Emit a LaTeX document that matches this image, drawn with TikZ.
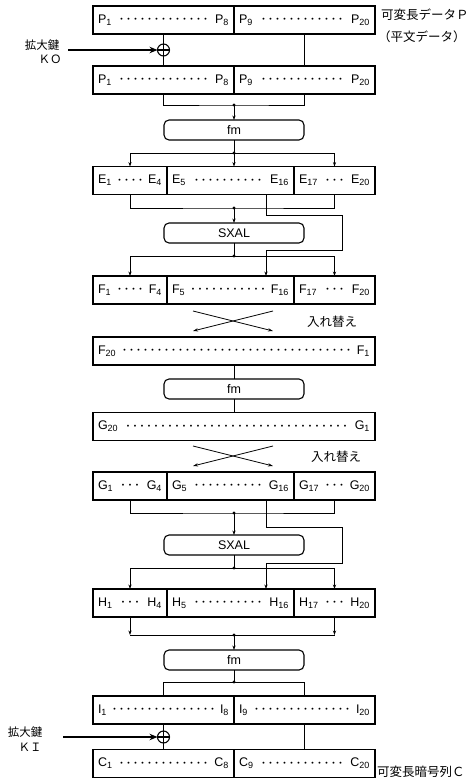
\documentclass[tikz,border=0pt]{standalone}
\usepackage{fontspec}
\setmainfont{Liberation Sans}
\newfontfamily\jpfont{Noto Sans CJK JP}
\usetikzlibrary{arrows.meta,positioning}
\newcommand{\idx}[2]{#1\textsubscript{\fontsize{9}{10}\selectfont #2}}
\newcommand{\run}[2]{#1\hspace{4pt}\cleaders\hbox to 7pt{\hss\raisebox{1.6pt}{\fontsize{7}{7}\selectfont\textbullet}\hss}\hfill\hspace{4pt}#2}
\tikzset{
    datacell/.style={rectangle,draw,line width=1.1pt,outer sep=0pt,inner xsep=5pt,inner ysep=0pt,minimum height=28pt,text height=9pt,text depth=2.5pt,text width=#1,font=\fontsize{12.5}{14}\selectfont},
    funcbox/.style={rectangle,draw,rounded corners=5pt,line width=1.1pt,outer sep=0pt,minimum width=140pt,minimum height=20pt,inner sep=0pt,font=\fontsize{12.5}{14}\selectfont},
    xorsym/.style={circle,draw,line width=1.1pt,outer sep=0pt,minimum size=12pt,inner sep=0pt,path picture={\draw[line width=1.1pt] (path picture bounding box.north) -- (path picture bounding box.south) (path picture bounding box.west) -- (path picture bounding box.east);}},
    jplabel/.style={font=\jpfont\fontsize{12.5}{14}\selectfont,inner sep=0pt},
    keylabel/.style={font=\jpfont\fontsize{11.5}{13}\selectfont,inner sep=0pt},
    joindot/.style={circle,fill,inner sep=0pt,minimum size=3.2pt},
    dataline/.style={line width=0.7pt},
    flowline/.style={-{Stealth[length=4.5pt,width=3.2pt]},line width=0.7pt},
    keyline/.style={-{Stealth[length=8pt,width=6.5pt]},line width=1.1pt},
    swapline/.style={-{Stealth[length=5pt,width=3.2pt]},line width=0.8pt}
}
\begin{document}
\begin{tikzpicture}[x=1pt,y=-1pt]
    \useasboundingbox (0,0) rectangle (475,783);
    \node[datacell=131pt,anchor=west] (p1a) at (93,20) {\run{\idx{P}{1}}{\idx{P}{8}}};
    \node[datacell=131pt,right=0pt of p1a] (p1b) {\run{\idx{P}{9}}{\idx{P}{20}}};
    \node[jplabel,anchor=west] (plain) at (381,15) {可変長データＰ};
    \node[jplabel,anchor=west] (plainsub) at (378,37) {（平文データ）};
    \node[xorsym] (xor0) at (163.5,50) {};
    \coordinate (key0) at (68,50);
    \node[keylabel] (key0a) at (42,45) {拡大鍵};
    \node[keylabel] (key0b) at (50,59) {ＫＯ};
    \node[datacell=131pt,anchor=west] (p2a) at (93,80) {\run{\idx{P}{1}}{\idx{P}{8}}};
    \node[datacell=131pt,right=0pt of p2a] (p2b) {\run{\idx{P}{9}}{\idx{P}{20}}};
    \node[funcbox] (fm1) at (234,130) {fm};
    \node[datacell=64pt,anchor=west] (e1) at (93,180.5) {\run{\idx{E}{1}}{\idx{E}{4}}};
    \node[datacell=117pt,right=0pt of e1] (e2) {\run{\idx{E}{5}}{\idx{E}{16}}};
    \node[datacell=71pt,right=0pt of e2] (e3) {\run{\idx{E}{17}}{\idx{E}{20}}};
    \node[funcbox] (sx1) at (234,233) {SXAL};
    \node[datacell=64pt,anchor=west] (f1) at (93,290) {\run{\idx{F}{1}}{\idx{F}{4}}};
    \node[datacell=117pt,right=0pt of f1] (f2) {\run{\idx{F}{5}}{\idx{F}{16}}};
    \node[datacell=71pt,right=0pt of f2] (f3) {\run{\idx{F}{17}}{\idx{F}{20}}};
    \node[jplabel] (swap1) at (332,322) {入れ替え};
    \node[datacell=272pt,anchor=west] (f20) at (93,351) {\run{\idx{F}{20}}{\idx{F}{1}}};
    \node[funcbox] (fm2) at (234,389) {fm};
    \node[datacell=272pt,anchor=west] (g20) at (93,426.5) {\run{\idx{G}{20}}{\idx{G}{1}}};
    \node[jplabel] (swap2) at (336,457) {入れ替え};
    \node[datacell=64pt,anchor=west] (g1) at (93,486) {\run{\idx{G}{1}}{\idx{G}{4}}};
    \node[datacell=117pt,right=0pt of g1] (g2) {\run{\idx{G}{5}}{\idx{G}{16}}};
    \node[datacell=71pt,right=0pt of g2] (g3) {\run{\idx{G}{17}}{\idx{G}{20}}};
    \node[funcbox] (sx2) at (234,545) {SXAL};
    \node[datacell=64pt,anchor=west] (h1) at (93,603) {\run{\idx{H}{1}}{\idx{H}{4}}};
    \node[datacell=117pt,right=0pt of h1] (h2) {\run{\idx{H}{5}}{\idx{H}{16}}};
    \node[datacell=71pt,right=0pt of h2] (h3) {\run{\idx{H}{17}}{\idx{H}{20}}};
    \node[funcbox] (fm3) at (234,660) {fm};
    \node[datacell=131pt,anchor=west] (i1) at (93,710) {\run{\idx{I}{1}}{\idx{I}{8}}};
    \node[datacell=131pt,right=0pt of i1] (i2) {\run{\idx{I}{9}}{\idx{I}{20}}};
    \node[xorsym] (xor1) at (163.5,737) {};
    \coordinate (key1) at (63,737);
    \node[keylabel] (key1a) at (25,732) {拡大鍵};
    \node[keylabel] (key1b) at (30,747) {ＫＩ};
    \node[datacell=131pt,anchor=west] (c1) at (93,763.5) {\run{\idx{C}{1}}{\idx{C}{8}}};
    \node[datacell=131pt,right=0pt of c1] (c2) {\run{\idx{C}{9}}{\idx{C}{20}}};
    \node[jplabel,anchor=west] (cipher) at (377,772) {可変長暗号列Ｃ};
    \coordinate (j1) at (234,105);
    \coordinate (j2) at (234,153);
    \coordinate (j3) at (234,208);
    \coordinate (j4) at (234,256);
    \coordinate (j5) at (234,513);
    \coordinate (j6) at (234,568);
    \coordinate (j7) at (234,635);
    \coordinate (j8) at (234,682);
    \coordinate (byp1) at (266,215);
    \coordinate (byp2) at (342,250);
    \coordinate (byp3) at (266,527);
    \coordinate (byp4) at (342,563);
    \coordinate (cr1a) at (193,311);
    \coordinate (cr1b) at (273,331);
    \coordinate (cr1c) at (273,311);
    \coordinate (cr1d) at (193,331);
    \coordinate (cr2a) at (193,446);
    \coordinate (cr2b) at (273,466);
    \coordinate (cr2c) at (273,446);
    \coordinate (cr2d) at (193,466);
    \draw[dataline] (p1a) -- (xor0) -- (p2a);
    \draw[dataline] (p1b) -- (p2b);
    \draw[keyline] (key0) -- (xor0);
    \draw[dataline] (p2a) |- (j1) -| (p2b);
    \draw[flowline] (j1) -- (fm1);
    \draw[dataline] (fm1) -- (j2);
    \draw[flowline] (j2) -| (e1);
    \draw[flowline] (j2) -| (e3);
    \draw[flowline] (j2) -- (j2 |- e2.north);
    \draw[dataline] (e1) |- (j3) -| (e3);
    \draw[flowline] (j3) -- (sx1);
    \draw[flowline] (e2.south -| byp1) -- (byp1) -| (byp2) -| (f2.north -| byp1);
    \draw[dataline] (sx1) -- (j4);
    \draw[flowline] (j4) -| (f1);
    \draw[flowline] (j4) -| (f3);
    \draw[swapline] (cr1a) -- (cr1b);
    \draw[swapline] (cr1c) -- (cr1d);
    \draw[dataline] (f20) -- (fm2) -- (g20);
    \draw[swapline] (cr2a) -- (cr2b);
    \draw[swapline] (cr2c) -- (cr2d);
    \draw[dataline] (g1) |- (j5) -| (g3);
    \draw[flowline] (j5) -- (sx2);
    \draw[flowline] (g2.south -| byp3) -- (byp3) -| (byp4) -| (h2.north -| byp3);
    \draw[dataline] (sx2) -- (j6);
    \draw[flowline] (j6) -| (h1);
    \draw[flowline] (j6) -| (h3);
    \draw[dataline] (h1 |- j7) -- (h3 |- j7);
    \draw[flowline] (h1) -- (h1 |- j7);
    \draw[flowline] (h3) -- (h3 |- j7);
    \draw[flowline] (j7) -- (fm3);
    \draw[dataline] (fm3) -- (j8);
    \draw[dataline] (j8) -| (i1);
    \draw[dataline] (j8) -| (i2);
    \draw[dataline] (i1) -- (xor1) -- (c1);
    \draw[dataline] (i2) -- (c2);
    \draw[keyline] (key1) -- (xor1);
    \foreach \j in {j1,j2,j3,j4,j5,j6,j7,j8}
        \node[joindot] at (\j) {};
\end{tikzpicture}
\end{document}
